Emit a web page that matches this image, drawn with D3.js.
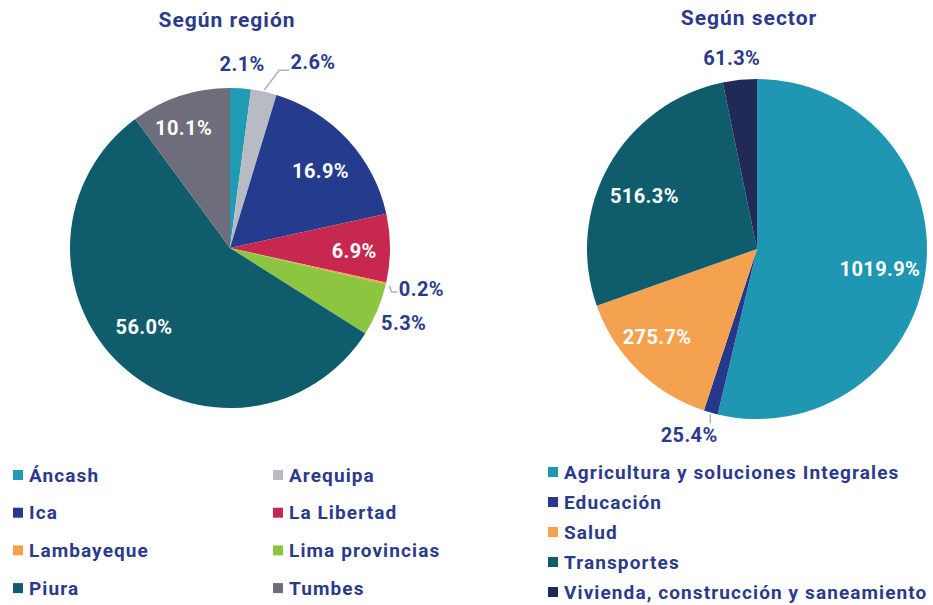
<!DOCTYPE html>
<html>
<head>
<meta charset="utf-8" />
<title>Según región / Según sector</title>
<script src="https://cdn.jsdelivr.net/npm/d3@7"></script>
<style>
  body { margin: 0; padding: 0; background: #ffffff; }
  svg { display: block; font-family: Roboto, "DejaVu Sans", sans-serif; font-weight: 700; }
</style>
</head>
<body>
<div id="chart"></div>
<script>

// region pie
const regions = ['Áncash', 'Arequipa', 'Ica', 'La Libertad', 'Lambayeque', 'Lima provincias', 'Piura', 'Tumbes']
const regionValues = [2.1, 2.6, 16.9, 6.9, 0.2, 5.3, 56.0, 10.1]
const regionColors = ['#1f9bb6', '#b8bbc3', '#243b8e', '#c62850', '#f5a04d', '#8cc53f', '#0f5c6d', '#6d6d7b']
const regionOutside = [true, true, false, false, true, true, false, false]

// sector pie
const sectors = ['Agricultura y soluciones Integrales', 'Educación', 'Salud', 'Transportes', 'Vivienda, construcción y saneamiento']
const sectorValues = [1019.9, 25.4, 275.7, 516.3, 61.3]
const sectorColors = ['#1f97b3', '#25388b', '#f4a24f', '#0f5c6d', '#212a56']
const sectorOutside = [false, true, false, false, true]

const navy = '#2b3a8c'
const width = 933, height = 605

const svg = d3.select('#chart').append('svg')
  .attr('width', width)
  .attr('height', height)

const fmt = d => d.toFixed(1) + '%'

function drawPie(opts) {
  const g = svg.append('g').attr('transform', `translate(${opts.cx},${opts.cy})`)
  const r = opts.r
  const pie = d3.pie().sort(null).value(d => d)
  const arcs = pie(opts.values)
  const arc = d3.arc().innerRadius(0).outerRadius(r)
  const inArc = d3.arc().innerRadius(r * opts.inFactor).outerRadius(r * opts.inFactor)
  const edgeArc = d3.arc().innerRadius(r * 1.01).outerRadius(r * 1.01)
  const outArc = d3.arc().innerRadius(r * opts.outFactor).outerRadius(r * opts.outFactor)

  g.selectAll('path.slice')
    .data(arcs)
    .enter()
    .append('path')
      .attr('class', 'slice')
      .attr('fill', (d, i) => opts.colors[i])
      .attr('d', arc)

  // labels
  arcs.forEach((d, i) => {
    const shift = opts.shift[i] || [0, 0]
    if (opts.outside[i]) {
      const p0 = edgeArc.centroid(d)
      const p1 = outArc.centroid(d)
      const tx = p1[0] + shift[0], ty = p1[1] + shift[1]
      if (opts.leader[i]) {
        g.append('path')
          .attr('fill', 'none')
          .attr('stroke', '#b0b3ba')
          .attr('stroke-width', 1.5)
          .attr('d', d3.line()(opts.leader[i](p0, [tx, ty])))
      }
      g.append('text')
        .attr('x', tx)
        .attr('y', ty)
        .attr('dy', '0.35em')
        .attr('text-anchor', 'middle')
        .attr('fill', navy)
        .attr('font-size', 20)
        .attr('letter-spacing', 0.4)
        .text(fmt(opts.values[i]))
    } else {
      const c = inArc.centroid(d)
      g.append('text')
        .attr('x', c[0] + shift[0])
        .attr('y', c[1] + shift[1])
        .attr('dy', '0.35em')
        .attr('text-anchor', 'middle')
        .attr('fill', '#ffffff')
        .attr('font-size', 20)
        .attr('letter-spacing', 0.4)
        .text(fmt(opts.values[i]))
    }
  })

  svg.append('text')
    .attr('x', opts.cx + opts.titleDx)
    .attr('y', opts.titleY)
    .attr('text-anchor', 'middle')
    .attr('fill', navy)
    .attr('font-size', 21)
    .attr('letter-spacing', 1)
    .text(opts.title)
}

drawPie({
  title: 'Según región', titleDx: -3, titleY: 27,
  cx: 230, cy: 248, r: 160,
  values: regionValues, colors: regionColors, outside: regionOutside,
  inFactor: 0.77, outFactor: 1.15,
  shift: [[0, 0], [44, -6], [0, 7], [1, 3], [12, 0], [4, 4], [-2, -11], [-8, -3]],
  leader: [
    null,
    (a, b) => [a, [a[0] + 15, b[1] + 8], [b[0] - 24, b[1] + 8]],
    null, null,
    (a, b) => [[a[0] + 2, a[1] + 2], [a[0] + 4, b[1] + 3], [b[0] - 24, b[1] + 3]],
    null, null, null
  ]
})

drawPie({
  title: 'Según sector', titleDx: -8, titleY: 25,
  cx: 757, cy: 249, r: 170,
  values: sectorValues, colors: sectorColors, outside: sectorOutside,
  inFactor: 0.74, outFactor: 1.12,
  shift: [[-2, 5], [-16, 3], [-12, -2], [-3, 9], [-6, -2]],
  leader: [
    null,
    (a, b) => [a, [a[0], b[1] - 12]],
    null, null, null
  ]
})

// legends
function drawLegend(names, colors, x0, y0, cols, colW, rowH) {
  const lg = svg.append('g').attr('transform', `translate(${x0},${y0})`)
  const item = lg.selectAll('g.item')
    .data(names)
    .enter()
    .append('g')
      .attr('class', 'item')
      .attr('transform', (d, i) => `translate(${(i % cols) * colW},${Math.floor(i / cols) * rowH})`)
  item.append('rect')
    .attr('x', 0)
    .attr('y', -5)
    .attr('width', 10)
    .attr('height', 10)
    .attr('fill', (d, i) => colors[i])
  item.append('text')
    .attr('x', 16)
    .attr('y', 0)
    .attr('dy', '0.35em')
    .attr('fill', navy)
    .attr('font-size', 19)
    .attr('letter-spacing', 1.1)
    .text(d => d)
}

drawLegend(regions, regionColors, 13, 475, 2, 260, 37.7)
drawLegend(sectors, sectorColors, 548, 472, 1, 0, 30)

</script>
</body>
</html>
